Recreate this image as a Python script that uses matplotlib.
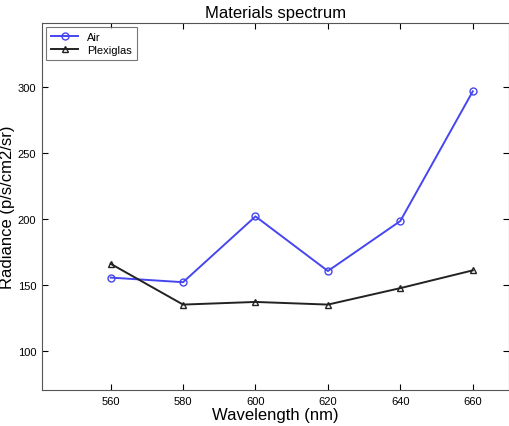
import matplotlib
matplotlib.use("Agg")
import matplotlib.pyplot as plt

wavelength = [560, 580, 600, 620, 640, 660]
air = [155.5, 152, 202, 160.5, 198.5, 297]
plexiglas = [166, 135, 137, 135, 147.5, 161]

plt.rcParams['font.family'] = ['Liberation Sans', 'DejaVu Sans']

fig = plt.figure(figsize=(5.1, 4.27), dpi=100)
ax = fig.add_axes([0.082, 0.084, 0.916, 0.86])

ax.plot(wavelength, air, color='#4646f0', marker='o', markersize=5,
        markerfacecolor='none', linewidth=1.4, label='Air')
ax.plot(wavelength, plexiglas, color='#222222', marker='^', markersize=5,
        markerfacecolor='none', linewidth=1.4, label='Plexiglas')

ax.set_xlim(541, 670)
ax.set_ylim(70, 349)
ax.set_xticks(wavelength)
ax.set_yticks([100, 150, 200, 250, 300])
ax.tick_params(direction='in', top=True, right=True, labelsize=8, length=4, pad=4)
for s in ax.spines.values():
    s.set_color('#555555')

ax.set_title('Materials spectrum', fontsize=12, pad=4)
ax.set_xlabel('Wavelength (nm)', fontsize=12, labelpad=1)
ax.set_ylabel('Radiance (p/s/cm2/sr)', fontsize=12)
ax.yaxis.set_label_coords(-0.058, 0.5)

leg = ax.legend(loc='upper left', fontsize=8, fancybox=False, edgecolor='#555555',
                borderaxespad=0.4, handlelength=2.5, labelspacing=0.3)
leg.get_frame().set_linewidth(0.8)

fig.savefig('out.png', dpi=100)
